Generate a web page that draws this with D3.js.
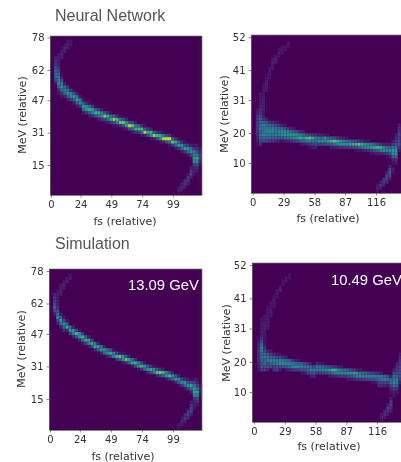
<!DOCTYPE html>
<html>
<head>
<meta charset="utf-8">
<script src="https://cdn.jsdelivr.net/npm/d3@7"></script>
<style>
    html, body { margin: 0; padding: 0; background: #fff; overflow: hidden; }
    svg { display: block; }
    .blurry { filter: blur(0.45px); }
</style>
</head>
<body>
<div id="chart"></div>
<script>
// each row: fs, MeV of the first cell, then cell intensities going up (percent of the colormap)
const nnCells = [
    [2.5,54.4,10,25,38,42,35,28,22,18,12],
    [5,49.6,8,18,40,55,50,48,40,28,18,16,14,12,10],
    [7.5,48,10,20,45,58,45,28,12,6], [7.5,67.2,12,16,14,8],
    [10,48,15,40,55,40,15], [10,70.4,14,16,10],
    [12.5,46.4,12,35,60,50,18], [12.5,72,12,14,10],
    [15,46.4,22,55,55,20], [15,73.6,10,10],
    [17.5,44.8,15,40,62,35,8],
    [20,43.2,10,35,68,48,12],
    [22.5,43.2,20,60,50,10],
    [25,40,12,42,65,40,10],
    [27.5,40,20,60,58,18],
    [30,38.4,10,35,70,42,8],
    [32.5,38.4,18,50,62,22],
    [35,38.4,30,70,38,8],
    [37.5,36.8,12,45,68,25],
    [40,36.8,20,62,52,12],
    [42.5,35.2,8,30,85,35],
    [45,35.2,12,45,72,22],
    [47.5,35.2,20,70,48,8],
    [50,33.6,8,32,85,38],
    [52.5,33.6,12,50,75,20],
    [55,33.6,18,78,45,8],
    [57.5,32,8,28,80,32],
    [60,32,12,62,60,15],
    [62.5,32,30,88,30],
    [65,30.4,10,38,78,25],
    [67.5,30.4,18,68,50,10],
    [70,30.4,25,72,40],
    [72.5,28.8,10,42,75,20],
    [75,28.8,15,88,40,8],
    [77.5,28.8,32,70,25],
    [80,27.2,10,55,72,15],
    [82.5,27.2,15,85,38],
    [85,27.2,30,75,22],
    [87.5,25.6,10,55,70,15],
    [90,25.6,15,88,45,8],
    [92.5,25.6,30,90,30],
    [95,24,10,40,92,22],
    [97.5,24,18,78,40,8],
    [100,22.4,10,38,68,20],
    [102.5,22.4,18,65,40,8],
    [105,20.8,10,42,62,20],
    [107.5,20.8,22,65,35,8],
    [110,19.2,10,40,62,25], [110,4.8,12,25,22,10],
    [112.5,17.6,8,28,58,45,15], [112.5,8,15,28,25,12],
    [115,12.8,15,25,55,65,55,50,22,8], [115,9.6,10,14],
    [117.5,11.2,10,18,30,55,68,50,30,18,10],
    [120,14.4,8,15,22,25,15,8],
    [107.5,3.2,12,22,20],
    [105,1.6,10,18,15],
    [102.5,0,8,14,10]
]
const nnWideCells = [
    [2.9,15.75,8,12,15,18,20,22,25,25,22,18,12,8],
    [5.8,15.75,18,30,40,42,38,45,42,40,38,30,22,18,15,12,12,10,10],
    [8.7,16.8,30,40,52,45,42,50,38,20,12,10,12,14,15,14,12,10,10,10,8],
    [11.6,16.8,28,38,48,52,50,42,35,15], [11.6,33.6,10,12,14,12,10,8],
    [14.5,16.8,25,42,50,55,48,40,22], [14.5,37.8,10,12,12,10],
    [17.4,16.8,22,40,45,55,50,38,18], [17.4,40.95,10,12,14,12],
    [20.3,16.8,20,38,52,50,45,30,12], [20.3,43.05,12,15,12],
    [23.2,16.8,15,35,50,55,42,22,8], [23.2,45.15,10,12,10],
    [26.1,16.8,10,35,60,58,40,15], [26.1,46.2,10,12,8],
    [29,16.8,12,42,62,55,32,10], [29,47.25,10,10],
    [31.9,16.8,15,45,60,52,22], [31.9,48.3,8,10],
    [34.8,16.8,20,50,65,42,15],
    [37.7,16.8,25,58,62,35,10],
    [40.6,16.8,28,62,55,25],
    [43.5,15.75,8,35,70,48,15],
    [46.4,15.75,12,42,62,40,10],
    [49.3,15.75,15,48,72,30],
    [52.2,14.7,8,20,52,78,25],
    [55.1,14.7,10,25,45,70,22],
    [58,14.7,12,28,50,55,18],
    [60.9,15.75,25,58,52,15],
    [63.8,15.75,28,62,48,12],
    [66.7,15.75,30,58,60,10],
    [69.6,15.75,35,65,40,8],
    [72.5,14.7,12,35,72,35],
    [75.4,14.7,12,42,78,28],
    [78.3,14.7,15,50,70,20],
    [81.2,14.7,18,58,60,15],
    [84.1,14.7,20,60,50,12],
    [87,14.7,22,62,45,10],
    [89.9,14.7,25,65,40],
    [92.8,14.7,28,70,35],
    [95.7,13.65,8,32,72,30],
    [98.6,13.65,10,40,78,22],
    [101.5,13.65,12,48,70,18],
    [104.4,13.65,15,52,62,12],
    [107.3,13.65,18,58,55,10],
    [110.2,12.6,8,22,62,48],
    [113.1,12.6,10,28,68,38],
    [116,12.6,12,35,72,30], [116,0,8,14,10],
    [118.9,12.6,15,48,70,22], [118.9,1.05,12,20,14],
    [121.8,12.6,18,55,58,15], [121.8,2.1,15,25,18],
    [124.7,11.55,8,22,52,48,15], [124.7,3.15,18,28,30,15],
    [127.6,11.55,12,30,55,40,12], [127.6,4.2,15,30,38,30,15],
    [130.5,9.45,8,15,35,55,60,48,22,10], [130.5,6.3,10,12],
    [133.4,9.45,10,20,42,58,62,50,32,22,18,12],
    [136.3,13.65,12,22,35,30,25,28,22,18,12],
    [139.2,16.8,10,15,18,14]
]
const simCells = [
    [2.5,56,12,30,38,32,25,20,14],
    [5,51.2,10,25,55,48,30,20,16,14,12,12,10],
    [7.5,49.6,15,45,62,40,12], [7.5,65.6,12,15,14,10],
    [10,48,18,40,58,30,10], [10,68.8,14,16,10],
    [12.5,48,15,70,40,10], [12.5,72,14,12],
    [15,46.4,22,62,45], [15,73.6,12,10],
    [17.5,44.8,12,50,62,15],
    [20,44.8,30,72,28],
    [22.5,43.2,15,62,55,8],
    [25,41.6,10,40,72,22],
    [27.5,41.6,22,70,38],
    [30,40,10,50,68,12],
    [32.5,40,28,72,25],
    [35,38.4,15,68,45],
    [37.5,38.4,35,65,15],
    [40,36.8,15,62,42],
    [42.5,36.8,38,62,15],
    [45,35.2,12,58,45],
    [47.5,35.2,25,68,28],
    [50,35.2,55,50,8],
    [52.5,33.6,20,72,30],
    [55,33.6,35,78,12],
    [57.5,32,10,55,65,10],
    [60,32,18,78,35],
    [62.5,32,40,65,12],
    [65,30.4,12,68,45],
    [67.5,30.4,30,72,18],
    [70,28.8,8,58,50],
    [72.5,28.8,18,72,28],
    [75,28.8,42,62,10],
    [77.5,27.2,15,62,40],
    [80,27.2,28,70,20],
    [82.5,27.2,50,55,8],
    [85,25.6,15,75,35],
    [87.5,25.6,25,80,22],
    [90,25.6,38,72,12],
    [92.5,24,10,60,50],
    [95,24,22,72,28],
    [97.5,22.4,8,40,58,12],
    [100,22.4,15,62,35],
    [102.5,20.8,8,38,60,15], [102.5,0,8,12],
    [105,20.8,20,60,30], [105,1.6,12,18,10],
    [107.5,19.2,10,40,62,18], [107.5,3.2,14,25,18],
    [110,19.2,25,60,35,10], [110,4.8,15,28,25],
    [112.5,17.6,15,42,65,28], [112.5,6.4,12,25,28,22,12],
    [115,12.8,12,22,55,68,62,45,25,10], [115,9.6,10,15],
    [117.5,11.2,10,18,28,50,62,42,25,14,8],
    [120,16,8,12,15,8]
]
const simWideCells = [
    [2.9,16.8,8,12,14,18,20,22,22,18,15,10,8],
    [5.8,16.8,22,35,30,38,48,42,50,55,42,30,20,15,14,12,12,10,8],
    [8.7,16.8,25,32,45,38,50,42,30,18,10,8,10,12,12,14,14,12,10,10],
    [11.6,16.8,15,35,30,52,45,35,15], [11.6,30.45,10,12,12,14,12,10,10,8],
    [14.5,17.85,30,42,52,38,25,10], [14.5,34.65,10,12,12,10,10],
    [17.4,16.8,22,25,45,50,38,18], [17.4,37.8,10,12,12,10],
    [20.3,16.8,25,35,50,52,30,12], [20.3,40.95,10,12,10],
    [23.2,16.8,12,30,55,50,28,8], [23.2,43.05,12,12],
    [26.1,17.85,35,55,48,18], [26.1,45.15,10,10],
    [29,16.8,12,35,52,42,12], [29,46.2,10,10],
    [31.9,16.8,15,42,50,35], [31.9,47.25,8,8],
    [34.8,16.8,18,50,48,22],
    [37.7,16.8,22,55,42,15],
    [40.6,16.8,25,55,38,10],
    [43.5,15.75,8,30,52,38],
    [46.4,15.75,10,35,48,30],
    [49.3,15.75,25,40,48,22],
    [52.2,14.7,12,30,52,40,12],
    [55.1,14.7,15,38,55,32],
    [58,15.75,22,50,48,18],
    [60.9,15.75,25,52,45,12],
    [63.8,15.75,28,55,40,8],
    [66.7,15.75,30,58,32],
    [69.6,14.7,10,32,60,28],
    [72.5,14.7,12,40,72,22],
    [75.4,14.7,14,48,70,18],
    [78.3,14.7,18,52,58,15],
    [81.2,14.7,20,55,48,10],
    [84.1,14.7,22,55,42],
    [87,13.65,10,28,60,38],
    [89.9,13.65,12,32,62,30],
    [92.8,13.65,15,40,68,25],
    [95.7,13.65,18,52,62,15],
    [98.6,13.65,20,55,50,12],
    [101.5,13.65,22,52,42],
    [104.4,13.65,25,52,38],
    [107.3,13.65,28,52,30],
    [110.2,12.6,8,30,50,25],
    [113.1,12.6,10,32,48,22],
    [116,11.55,15,22,38,48,18],
    [118.9,11.55,18,25,45,50,12], [118.9,0,10,16,12],
    [121.8,11.55,15,28,50,40], [121.8,1.05,12,20,16],
    [124.7,11.55,12,25,48,32], [124.7,2.1,14,22,25,14],
    [127.6,9.45,10,15,25,42,40,15], [127.6,3.15,12,20,28,25,12],
    [130.5,8.4,10,14,25,42,55,50,45,30,15],
    [133.4,9.45,10,20,38,50,52,42,30,25,20,14],
    [136.3,12.6,12,22,30,32,28,25,22,20,14,10],
    [139.2,15.75,10,14,18,15,10]
]

const narrowFsTicks = [0, 24, 49, 74, 99]
const narrowMevTicks = [15, 31, 47, 62, 78]
const wideFsTicks = [0, 29, 58, 87, 116]
const wideMevTicks = [10, 20, 31, 41, 52]

const panels = [
    { cells: nnCells, fsBin: 2.5, mevBin: 1.6, fsTicks: narrowFsTicks, mevTicks: narrowMevTicks,
      xDomain: [-0.8, 122.6], xRange: [50, 202], yDomain: [0.2, 78.7], yRange: [195, 36],
      xLabel: [125, 225], yLabel: [22, 115] },
    { cells: nnWideCells, fsBin: 2.9, mevBin: 1.05, fsTicks: wideFsTicks, mevTicks: wideMevTicks,
      xDomain: [-1.6, 141], xRange: [251, 402.6], yDomain: [0, 52.7], yRange: [193, 35],
      xLabel: [328, 222], yLabel: [224, 114] },
    { cells: simCells, fsBin: 2.5, mevBin: 1.6, fsTicks: narrowFsTicks, mevTicks: narrowMevTicks,
      xDomain: [-0.8, 122.4], xRange: [49, 202], yDomain: [-0.3, 79], yRange: [430, 269],
      xLabel: [123, 460], yLabel: [21, 349], note: '13.09 GeV', notePos: [128, 290] },
    { cells: simWideCells, fsBin: 2.9, mevBin: 1.05, fsTicks: wideFsTicks, mevTicks: wideMevTicks,
      xDomain: [-1.9, 139.5], xRange: [252, 402], yDomain: [0.1, 52.7], yRange: [422, 263],
      xLabel: [329, 450], yLabel: [226, 343], note: '10.49 GeV', notePos: [331, 285] }
]

const width = 401
const height = 462

const svg = d3.select('#chart')
    .append('svg')
    .attr('width', width)
    .attr('height', height)

const root = svg.append('g').attr('class', 'blurry')

root.append('text').text('Neural Network')
    .attr('x', 55).attr('y', 21)
    .style('font', '16px "Liberation Sans"').style('fill', '#555')
root.append('text').text('Simulation')
    .attr('x', 55).attr('y', 249)
    .style('font', '16px "Liberation Sans"').style('fill', '#555')

// faint cells stay close to the background, the peaks reach yellow-green
const colorPos = d3.scalePow().exponent(1.25).domain([0, 100]).range([0, 1]).clamp(true)

panels.forEach(p => {
    const x = d3.scaleLinear().domain(p.xDomain).range(p.xRange)
    const y = d3.scaleLinear().domain(p.yDomain).range(p.yRange)

    root.append('rect')
        .attr('x', p.xRange[0])
        .attr('y', p.yRange[1])
        .attr('width', p.xRange[1] - p.xRange[0])
        .attr('height', p.yRange[0] - p.yRange[1])
        .style('fill', d3.interpolateViridis(0))

    const flat = p.cells.flatMap(row => row.slice(2).map((v, i) => ({
        fs: row[0],
        mev: row[1] + i * p.mevBin,
        v: v
    })))

    root.append('g').style('filter', 'blur(0.75px)')
        .selectAll('rect')
        .data(flat)
        .join('rect')
        .attr('x', d => x(d.fs))
        .attr('y', d => y(d.mev + p.mevBin))
        .attr('width', d => x(d.fs + p.fsBin) - x(d.fs))
        .attr('height', d => y(d.mev) - y(d.mev + p.mevBin))
        .style('fill', d => d3.interpolateViridis(colorPos(d.v)))

    const xAxis = root.append('g')
        .attr('transform', `translate(0,${p.yRange[0]})`)
        .call(d3.axisBottom(x).tickValues(p.fsTicks).tickFormat(d3.format('d')).tickSizeInner(2.5).tickSizeOuter(0).tickPadding(3))
    const yAxis = root.append('g')
        .attr('transform', `translate(${p.xRange[0]},0)`)
        .call(d3.axisLeft(y).tickValues(p.mevTicks).tickFormat(d3.format('d')).tickSizeInner(2.5).tickSizeOuter(0).tickPadding(3))
    ;[xAxis, yAxis].forEach(a => {
        a.selectAll('text').style('font', '10px "DejaVu Sans"').style('fill', '#333')
        a.selectAll('line').style('stroke', '#555').style('stroke-width', 0.7)
        a.select('.domain').style('stroke', '#666').style('stroke-width', 0.8)
    })

    // top and right edge of the frame
    root.append('path')
        .attr('d', d3.line()([[p.xRange[0], p.yRange[1]], [p.xRange[1], p.yRange[1]], [p.xRange[1], p.yRange[0]]]))
        .style('fill', 'none').style('stroke', '#777').style('stroke-width', 0.7)

    root.append('text').text('fs (relative)')
        .attr('x', p.xLabel[0]).attr('y', p.xLabel[1])
        .attr('text-anchor', 'middle')
        .style('font', '11px "DejaVu Sans"').style('fill', '#333')
    root.append('text').text('MeV (relative)')
        .attr('transform', `translate(${p.yLabel[0]},${p.yLabel[1]}) rotate(-90)`)
        .attr('text-anchor', 'middle')
        .attr('dy', '0.35em')
        .style('font', '11px "DejaVu Sans"').style('fill', '#333')

    if (p.note) {
        root.append('text').text(p.note)
            .attr('x', p.notePos[0]).attr('y', p.notePos[1])
            .style('font', '14.8px "Liberation Sans"').style('fill', '#fff')
    }
})
</script>
</body>
</html>
